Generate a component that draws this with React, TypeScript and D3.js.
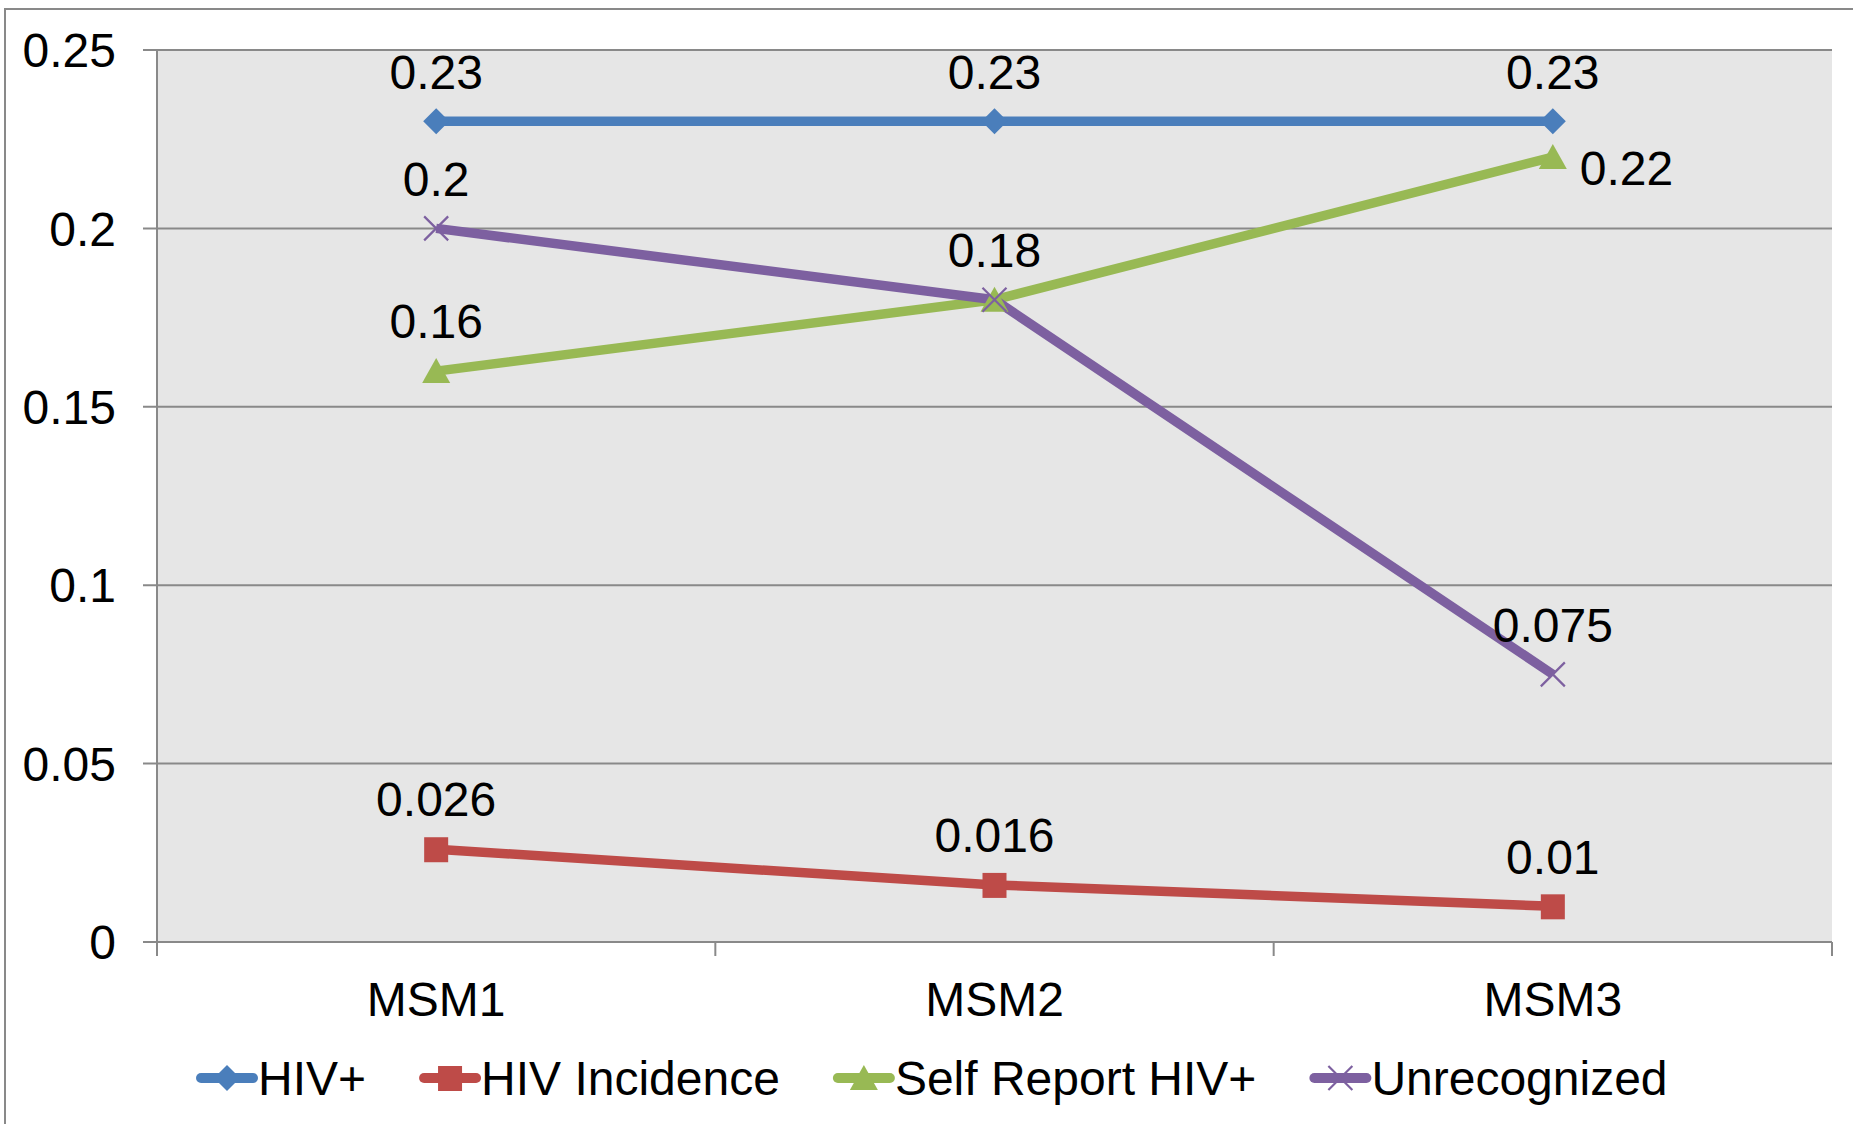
import React from 'react'
import * as d3 from 'd3'

const categories = ['MSM1', 'MSM2', 'MSM3']
const seriesNames = ['HIV+', 'HIV Incidence', 'Self Report HIV+', 'Unrecognized']
const hivPositive = [0.23, 0.23, 0.23]
const hivIncidence = [0.026, 0.016, 0.01]
const selfReport = [0.16, 0.18, 0.22]
const unrecognized = [0.2, 0.18, 0.075]
const yTicks = [0, 0.05, 0.1, 0.15, 0.2, 0.25]
const yTickLabels = ['0', '0.05', '0.1', '0.15', '0.2', '0.25']
const seriesColors = ['#4A7EBB', '#BE4B48', '#98B954', '#7D60A0']
const seriesMarkers = ['diamond', 'square', 'triangle', 'cross']
// where each value label sits: above / right / none (hidden under another label)
const labelPlaces = [
  ['above', 'above', 'above'],
  ['above', 'above', 'above'],
  ['above', 'none', 'right'],
  ['above', 'above', 'above'],
]

const FONT = '"Liberation Sans", Arial, sans-serif'
const FS = 48
const MID = FS * 0.358 // baseline offset to put digit centre on y
const GRID = '#898989'

const drawMarker = (g, kind, x, y, color) => {
  if (kind === 'diamond') {
    g.append('path')
      .attr('d', `M${x},${y - 13}L${x + 13},${y}L${x},${y + 13}L${x - 13},${y}Z`)
      .attr('fill', color)
  } else if (kind === 'square') {
    g.append('rect')
      .attr('x', x - 12).attr('y', y - 12)
      .attr('width', 24).attr('height', 25)
      .attr('fill', color)
  } else if (kind === 'triangle') {
    g.append('path')
      .attr('d', `M${x},${y - 13}L${x + 14},${y + 12}L${x - 14},${y + 12}Z`)
      .attr('fill', color)
  } else {
    g.append('path')
      .attr('d', `M${x - 12},${y - 12}L${x + 12},${y + 12}M${x - 12},${y + 12}L${x + 12},${y - 12}`)
      .attr('stroke', color)
      .attr('stroke-width', 2.2)
      .attr('fill', 'none')
  }
}

const App = () => {
  const svgRef = React.useRef(null)
  const width = 1853
  const height = 1124

  React.useEffect(() => {
    const svg = d3.select(svgRef.current)
    svg.selectAll('*').remove()

    const series = [hivPositive, hivIncidence, selfReport, unrecognized]
    const left = 157
    const right = 1832
    const top = 50
    const bottom = 942

    const x = d3.scaleBand().domain(categories).range([left, right]).padding(0)
    const cx = (c) => x(c) + x.bandwidth() / 2
    const y = d3.scaleLinear().domain([0, 0.25]).range([bottom, top])

    // outer frame
    svg.append('rect')
      .attr('x', 5).attr('y', 9)
      .attr('width', width + 20).attr('height', height + 20)
      .attr('fill', '#fff')
      .attr('stroke', GRID)
      .attr('stroke-width', 2)

    svg.append('rect')
      .attr('x', left).attr('y', top)
      .attr('width', right - left).attr('height', bottom - top)
      .attr('fill', '#E6E6E6')

    // grid + y ticks
    const grid = svg.append('g')
    yTicks.forEach((t, i) => {
      grid.append('line')
        .attr('x1', left - 14).attr('x2', right)
        .attr('y1', y(t)).attr('y2', y(t))
        .attr('stroke', GRID).attr('stroke-width', 2)
      grid.append('text')
        .attr('x', 116)
        .attr('y', y(t) + MID)
        .attr('text-anchor', 'end')
        .style('font', `${FS}px ${FONT}`)
        .attr('fill', '#000')
        .text(yTickLabels[i])
    })

    // axes
    svg.append('line')
      .attr('x1', left).attr('x2', left).attr('y1', top).attr('y2', bottom + 14)
      .attr('stroke', GRID).attr('stroke-width', 2)
    const bounds = categories.map((c) => x(c)).concat([right])
    bounds.forEach((b) => {
      svg.append('line')
        .attr('x1', b).attr('x2', b).attr('y1', bottom).attr('y2', bottom + 14)
        .attr('stroke', GRID).attr('stroke-width', 2)
    })
    categories.forEach((c) => {
      svg.append('text')
        .attr('x', cx(c)).attr('y', 999 + MID)
        .attr('text-anchor', 'middle')
        .style('font', `${FS}px ${FONT}`)
        .text(c)
    })

    // series lines
    const line = d3.line().x((d, i) => cx(categories[i])).y((d) => y(d))
    series.forEach((s, si) => {
      svg.append('path')
        .datum(s)
        .attr('d', line)
        .attr('fill', 'none')
        .attr('stroke', seriesColors[si])
        .attr('stroke-width', 9.5)
        .attr('stroke-linejoin', 'round')
    })
    series.forEach((s, si) => {
      const g = svg.append('g')
      s.forEach((v, i) => drawMarker(g, seriesMarkers[si], cx(categories[i]), y(v), seriesColors[si]))
    })

    // value labels
    series.forEach((s, si) => {
      s.forEach((v, i) => {
        const place = labelPlaces[si][i]
        if (place === 'none') return
        const px = cx(categories[i])
        const py = y(v)
        svg.append('text')
          .attr('x', place === 'right' ? px + 27 : px)
          .attr('y', place === 'right' ? py + 11 + MID : py - 50 + MID)
          .attr('text-anchor', place === 'right' ? 'start' : 'middle')
          .style('font', `${FS}px ${FONT}`)
          .text(String(v))
      })
    })

    // legend
    const legend = svg.append('g')
    let lx = 197
    const ly = 1078
    seriesNames.forEach((name, si) => {
      legend.append('line')
        .attr('x1', lx + 4).attr('x2', lx + 56)
        .attr('y1', ly).attr('y2', ly)
        .attr('stroke', seriesColors[si])
        .attr('stroke-width', 10)
        .attr('stroke-linecap', 'round')
      drawMarker(legend, seriesMarkers[si], lx + 30, ly, seriesColors[si])
      const t = legend.append('text')
        .attr('x', lx + 61).attr('y', ly + MID)
        .style('font', `${FS}px ${FONT}`)
        .text(name)
      const tw = t.node().getComputedTextLength()
      lx += 61 + tw + 54
    })
  }, [])

  return (
    <svg
      ref={svgRef}
      width={width}
      height={height}
      style={{ position: 'absolute', left: 0, top: 0, background: '#fff' }}
    />
  )
}

export default App
